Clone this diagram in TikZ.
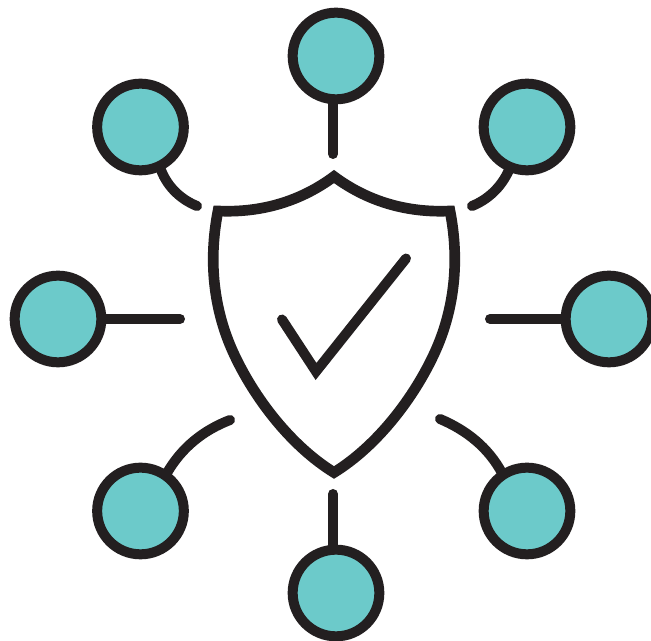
\documentclass[tikz,border=0pt]{standalone}
\definecolor{ink}{HTML}{231F20}
\definecolor{teal1}{HTML}{6CCACA}
\tikzset{
  sat/.style={circle,draw=ink,fill=teal1,line width=7.5pt,minimum size=65pt,inner sep=0pt},
  link/.style={draw=ink,line width=7.5pt,line cap=round},
  shield/.style={draw=ink,line width=8pt,line join=miter},
  tick/.style={draw=ink,line width=7.5pt,line cap=round,line join=miter}
}
\begin{document}
\begin{tikzpicture}[x=0.75pt,y=-0.75pt]
\useasboundingbox (0,0) rectangle (651,641);
\fill[white] (0,0) rectangle (651,641);
\coordinate (e1) at (333,154);
\coordinate (e2) at (197,206);
\coordinate (e3) at (472,206);
\coordinate (e4) at (180,319);
\coordinate (e5) at (490,319);
\coordinate (e6) at (230,420);
\coordinate (e7) at (440,419);
\coordinate (e8) at (333,494);
\coordinate (c1) at (333,100);
\coordinate (c2) at (161,170);
\coordinate (c3) at (509,170);
\coordinate (c4) at (103,319);
\coordinate (c5) at (564,319);
\coordinate (c6) at (167,473);
\coordinate (c7) at (502,473);
\coordinate (c8) at (333,547);
\draw[link] (c1) -- (e1);
\draw[link] (c2) .. controls (168,188) and (182,200) .. (e2);
\draw[link] (c3) .. controls (501,188) and (487,200) .. (e3);
\draw[link] (c4) -- (e4);
\draw[link] (e5) -- (c5);
\draw[link] (c6) .. controls (182,447) and (204,430) .. (e6);
\draw[link] (e7) .. controls (466,430) and (488,447) .. (c7);
\draw[link] (e8) -- (c8);
\node[sat] (top) at (336,56) {};
\node[sat] (tl) at (140.5,127) {};
\node[sat] (tr) at (527,127) {};
\node[sat] (ml) at (58,319) {};
\node[sat] (mr) at (609,319) {};
\node[sat] (bl) at (140.5,511) {};
\node[sat] (br) at (527,511) {};
\node[sat] (bot) at (336,593) {};
\draw[shield] (334,176.5) .. controls (301,201) and (262,213) .. (218,211)
  .. controls (208,262) and (214,310) .. (233,352)
  .. controls (254,398) and (291,446) .. (334,472.5)
  .. controls (377,446) and (414,398) .. (435,352)
  .. controls (454,310) and (460,262) .. (450,211)
  .. controls (406,213) and (367,201) .. (334,176.5) -- cycle;
\draw[tick] (282,319.5) -- (316,371.5) -- (406,258.5);
\end{tikzpicture}
\end{document}
